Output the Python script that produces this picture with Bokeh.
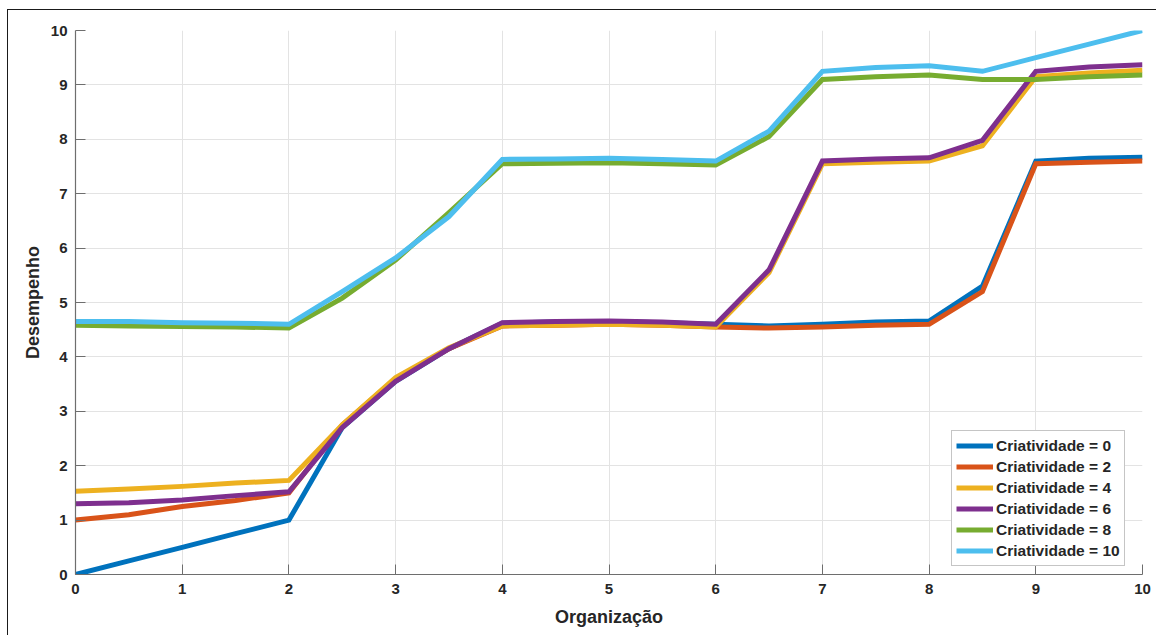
from bokeh.plotting import figure
from bokeh.models import Legend, LegendItem, FixedTicker, Range1d
from bokeh.embed import file_html
from bokeh.resources import INLINE

# Organização levels (x) and Desempenho for each Criatividade level
organizacao = [0, 0.5, 1, 1.5, 2, 2.5, 3, 3.5, 4, 4.5, 5, 5.5, 6, 6.5, 7, 7.5, 8, 8.5, 9, 9.5, 10]

criat_0 = [0.0, 0.25, 0.5, 0.75, 1.0, 2.7, 3.55, 4.15, 4.62, 4.64, 4.65, 4.63, 4.6,
           4.57, 4.6, 4.64, 4.66, 5.3, 7.6, 7.65, 7.67]
criat_2 = [1.0, 1.1, 1.25, 1.36, 1.5, 2.75, 3.6, 4.15, 4.57, 4.58, 4.6, 4.58, 4.55,
           4.53, 4.55, 4.58, 4.6, 5.2, 7.55, 7.58, 7.6]
criat_4 = [1.53, 1.57, 1.62, 1.68, 1.73, 2.75, 3.62, 4.17, 4.57, 4.58, 4.6, 4.58, 4.55,
           5.55, 7.55, 7.58, 7.6, 7.88, 9.15, 9.22, 9.27]
criat_6 = [1.3, 1.32, 1.37, 1.45, 1.52, 2.7, 3.55, 4.15, 4.63, 4.65, 4.66, 4.64, 4.6,
           5.6, 7.6, 7.64, 7.66, 7.98, 9.25, 9.33, 9.37]
criat_8 = [4.58, 4.57, 4.56, 4.55, 4.53, 5.08, 5.78, 6.65, 7.55, 7.56, 7.57, 7.55, 7.53,
           8.05, 9.1, 9.15, 9.18, 9.1, 9.1, 9.15, 9.18]
criat_10 = [4.65, 4.65, 4.63, 4.62, 4.6, 5.2, 5.82, 6.58, 7.63, 7.64, 7.65, 7.63, 7.6,
            8.15, 9.25, 9.32, 9.35, 9.25, 9.5, 9.75, 10.0]

series_labels = ["Criatividade = 0", "Criatividade = 2", "Criatividade = 4",
                 "Criatividade = 6", "Criatividade = 8", "Criatividade = 10"]
series_values = [criat_0, criat_2, criat_4, criat_6, criat_8, criat_10]
series_colors = ["#0072BD", "#D95319", "#EDB120", "#7E2F8E", "#77AC30", "#4DBEEE"]

ticks = list(range(0, 11))

FONT = "Liberation Sans"
TEXT = "#262626"
AXIS = "#6e6e6e"

p = figure(
    width=1148, height=625,
    frame_width=1067, frame_height=544,
    min_border_left=67, min_border_top=20, min_border_right=14, min_border_bottom=61,
    x_range=Range1d(0, 10), y_range=Range1d(0, 10),
    output_backend="svg", toolbar_location=None,
)
p.styles = {
    "margin-left": "7px", "margin-top": "9px",
    "border-left": "1px solid #1a1a1a", "border-top": "1px solid #1a1a1a",
}
p.outline_line_color = None
p.background_fill_color = "white"
p.border_fill_color = "white"

for ax in (p.xaxis[0], p.yaxis[0]):
    ax.ticker = FixedTicker(ticks=ticks)
    ax.minor_tick_line_color = None
    ax.major_tick_in = 10
    ax.major_tick_out = 0
    ax.axis_line_color = AXIS
    ax.major_tick_line_color = AXIS
    ax.axis_line_width = 1.2
    ax.major_label_text_font = FONT
    ax.major_label_text_font_style = "bold"
    ax.major_label_text_font_size = "15px"
    ax.major_label_text_color = TEXT
    ax.axis_label_text_font = FONT
    ax.axis_label_text_font_style = "bold"
    ax.axis_label_text_font_size = "18px"
    ax.axis_label_text_color = TEXT

p.xaxis.axis_label = "Organização"
p.yaxis.axis_label = "Desempenho"
p.xaxis.major_label_standoff = 9
p.yaxis.major_label_standoff = 8
p.xaxis.axis_label_standoff = 10
p.yaxis.axis_label_standoff = 5

p.xgrid.ticker = FixedTicker(ticks=ticks)
p.ygrid.ticker = FixedTicker(ticks=ticks)
p.grid.grid_line_color = "#e3e3e3"
p.grid.grid_line_width = 1

items = []
for label, vals, color in zip(series_labels, series_values, series_colors):
    r = p.line(organizacao, vals, line_color=color, line_width=5, line_join="miter")
    items.append(LegendItem(label=label, renderers=[r]))

legend = Legend(
    items=items,
    location=(876, 8),
    border_line_color="#8c8c8c",
    border_line_width=1,
    background_fill_color="white",
    background_fill_alpha=1,
    label_text_font=FONT,
    label_text_font_style="bold",
    label_text_font_size="15.5px",
    label_text_color=TEXT,
    glyph_width=37,
    glyph_height=21,
    label_height=21,
    label_standoff=3,
    spacing=0,
    padding=4,
    margin=0,
)
p.add_layout(legend, "center")

open("out.html", "w").write(file_html(p, INLINE))
